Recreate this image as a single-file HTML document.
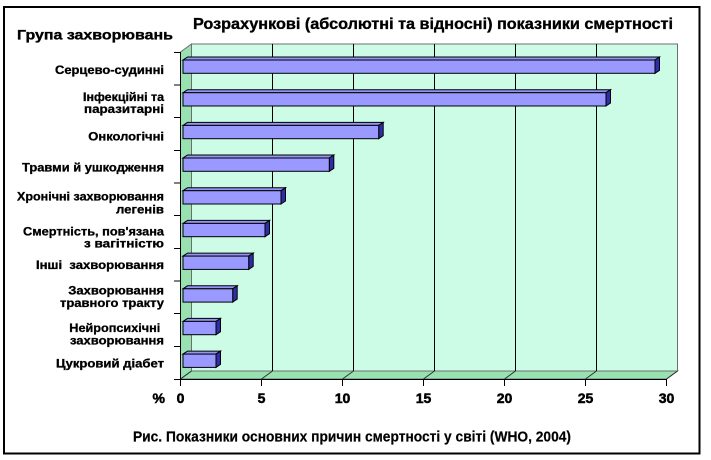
<!DOCTYPE html>
<html>
<head>
<meta charset="utf-8">
<style>
  html,body{margin:0;padding:0;background:#fff;}
  svg{display:block;}
  text{font-family:"Liberation Sans","DejaVu Sans",sans-serif;font-weight:bold;fill:#000;}
</style>
</head>
<body>
<svg width="711" height="460" viewBox="0 0 711 460" xmlns="http://www.w3.org/2000/svg">
  <rect x="0" y="0" width="711" height="460" fill="#ffffff"/>
  <!-- outer border -->
  <rect x="4" y="7" width="695.5" height="446.5" fill="none" stroke="#000" stroke-width="2"/>

  <!-- titles -->
  <text x="193" y="29" font-size="15.5" textLength="480" lengthAdjust="spacingAndGlyphs" stroke="#000" stroke-width="0.35">Розрахункові (абсолютні та відносні) показники смертності</text>
  <text x="17" y="39.5" font-size="14" textLength="156" lengthAdjust="spacingAndGlyphs" stroke="#000" stroke-width="0.35">Група захворювань</text>

  <!-- back wall -->
  <rect x="191.5" y="44" width="486" height="327" fill="#ccfce6" stroke="#6e6e6e" stroke-width="1"/>
  <!-- left side wall -->
  <polygon points="180.5,52 191.5,44 191.5,371 180.5,379" fill="#98e1b1" stroke="#6e6e6e" stroke-width="1"/>
  <!-- floor -->
  <polygon points="180.5,379 191.5,371 677.5,371 666.5,379" fill="#98e1b1" stroke="#6e6e6e" stroke-width="1"/>

  <!-- gridlines on back wall -->
  <g stroke="#000" stroke-width="1">
    <line x1="272.5" y1="44" x2="272.5" y2="371"/>
    <line x1="353.5" y1="44" x2="353.5" y2="371"/>
    <line x1="434.5" y1="44" x2="434.5" y2="371"/>
    <line x1="515.5" y1="44" x2="515.5" y2="371"/>
    <line x1="596.5" y1="44" x2="596.5" y2="371"/>
  </g>
  <!-- floor diagonals -->
  <g stroke="#333" stroke-width="1">
    <line x1="180.5" y1="379" x2="191.5" y2="371"/>
    <line x1="261.5" y1="379" x2="272.5" y2="371"/>
    <line x1="342.5" y1="379" x2="353.5" y2="371"/>
    <line x1="423.5" y1="379" x2="434.5" y2="371"/>
    <line x1="504.5" y1="379" x2="515.5" y2="371"/>
    <line x1="585.5" y1="379" x2="596.5" y2="371"/>
    <line x1="666.5" y1="379" x2="677.5" y2="371"/>
  </g>

  <!-- axes -->
  <g stroke="#000" stroke-width="1">
    <line x1="180.5" y1="52" x2="180.5" y2="379.5"/>
    <line x1="180.5" y1="379.5" x2="666.5" y2="379.5"/>
    <!-- y ticks -->
    <line x1="174" y1="52.5" x2="180.5" y2="52.5"/>
    <line x1="174" y1="85" x2="180.5" y2="85"/>
    <line x1="174" y1="117.5" x2="180.5" y2="117.5"/>
    <line x1="174" y1="150.5" x2="180.5" y2="150.5"/>
    <line x1="174" y1="183" x2="180.5" y2="183"/>
    <line x1="174" y1="215.5" x2="180.5" y2="215.5"/>
    <line x1="174" y1="248.5" x2="180.5" y2="248.5"/>
    <line x1="174" y1="281" x2="180.5" y2="281"/>
    <line x1="174" y1="313.5" x2="180.5" y2="313.5"/>
    <line x1="174" y1="346.5" x2="180.5" y2="346.5"/>
    <line x1="174" y1="379.5" x2="180.5" y2="379.5"/>
    <!-- x ticks -->
    <line x1="180.5" y1="379" x2="180.5" y2="386"/>
    <line x1="261.5" y1="379" x2="261.5" y2="386"/>
    <line x1="342.5" y1="379" x2="342.5" y2="386"/>
    <line x1="423.5" y1="379" x2="423.5" y2="386"/>
    <line x1="504.5" y1="379" x2="504.5" y2="386"/>
    <line x1="585.5" y1="379" x2="585.5" y2="386"/>
    <line x1="666.5" y1="379" x2="666.5" y2="386"/>
  </g>

  <!-- bars -->
  <g stroke="#000" stroke-width="1" stroke-linejoin="miter">
    <polygon points="183,60 187.5,57 659.5,57 655,60" fill="#9494f6"/>
    <polygon points="655,60 659.5,57 659.5,70.3 655,73.3" fill="#2e2ea8"/>
    <rect x="183" y="60" width="472" height="13.3" fill="#9999ff"/>

    <polygon points="183,92.7 187.5,89.7 610.5,89.7 606,92.7" fill="#9494f6"/>
    <polygon points="606,92.7 610.5,89.7 610.5,103 606,106" fill="#2e2ea8"/>
    <rect x="183" y="92.7" width="423" height="13.3" fill="#9999ff"/>

    <polygon points="183,125.4 187.5,122.4 383.2,122.4 378.7,125.4" fill="#9494f6"/>
    <polygon points="378.7,125.4 383.2,122.4 383.2,135.7 378.7,138.7" fill="#2e2ea8"/>
    <rect x="183" y="125.4" width="195.7" height="13.3" fill="#9999ff"/>

    <polygon points="183,158 187.5,155 333.8,155 329.3,158" fill="#9494f6"/>
    <polygon points="329.3,158 333.8,155 333.8,168.3 329.3,171.3" fill="#2e2ea8"/>
    <rect x="183" y="158" width="146.3" height="13.3" fill="#9999ff"/>

    <polygon points="183,190.7 187.5,187.7 285.5,187.7 281,190.7" fill="#9494f6"/>
    <polygon points="281,190.7 285.5,187.7 285.5,201 281,204" fill="#2e2ea8"/>
    <rect x="183" y="190.7" width="98" height="13.3" fill="#9999ff"/>

    <polygon points="183,223.4 187.5,220.4 269.5,220.4 265,223.4" fill="#9494f6"/>
    <polygon points="265,223.4 269.5,220.4 269.5,233.7 265,236.7" fill="#2e2ea8"/>
    <rect x="183" y="223.4" width="82" height="13.3" fill="#9999ff"/>

    <polygon points="183,256.1 187.5,253.1 253.2,253.1 248.7,256.1" fill="#9494f6"/>
    <polygon points="248.7,256.1 253.2,253.1 253.2,266.4 248.7,269.4" fill="#2e2ea8"/>
    <rect x="183" y="256.1" width="65.7" height="13.3" fill="#9999ff"/>

    <polygon points="183,288.8 187.5,285.8 237.2,285.8 232.7,288.8" fill="#9494f6"/>
    <polygon points="232.7,288.8 237.2,285.8 237.2,299.1 232.7,302.1" fill="#2e2ea8"/>
    <rect x="183" y="288.8" width="49.7" height="13.3" fill="#9999ff"/>

    <polygon points="183,321.4 187.5,318.4 220.5,318.4 216,321.4" fill="#9494f6"/>
    <polygon points="216,321.4 220.5,318.4 220.5,331.7 216,334.7" fill="#2e2ea8"/>
    <rect x="183" y="321.4" width="33" height="13.3" fill="#9999ff"/>

    <polygon points="183,354.1 187.5,351.1 220.5,351.1 216,354.1" fill="#9494f6"/>
    <polygon points="216,354.1 220.5,351.1 220.5,364.4 216,367.4" fill="#2e2ea8"/>
    <rect x="183" y="354.1" width="33" height="13.3" fill="#9999ff"/>
  </g>

  <!-- category labels -->
  <g font-size="11.5" stroke="#000" stroke-width="0.3">
    <text x="55" y="74" textLength="109" lengthAdjust="spacingAndGlyphs">Серцево-судинні</text>
    <text x="83" y="101" textLength="81" lengthAdjust="spacingAndGlyphs">Інфекційні та</text>
    <text x="84" y="113" textLength="80" lengthAdjust="spacingAndGlyphs">паразитарні</text>
    <text x="88.3" y="140.5" textLength="75.7" lengthAdjust="spacingAndGlyphs">Онкологічні</text>
    <text x="22" y="171.5" textLength="142" lengthAdjust="spacingAndGlyphs">Травми й ушкодження</text>
    <text x="17" y="200.5" textLength="147" lengthAdjust="spacingAndGlyphs">Хронічні захворювання</text>
    <text x="116" y="213.5" textLength="48" lengthAdjust="spacingAndGlyphs">легенів</text>
    <text x="23" y="235.5" textLength="141" lengthAdjust="spacingAndGlyphs">Смертність, пов'язана</text>
    <text x="84" y="247.5" textLength="80" lengthAdjust="spacingAndGlyphs">з вагітністю</text>
    <text x="36" y="269" textLength="128" lengthAdjust="spacingAndGlyphs">Інші&#160; захворювання</text>
    <text x="68.3" y="294.5" textLength="95.7" lengthAdjust="spacingAndGlyphs">Захворювання</text>
    <text x="60" y="307" textLength="104" lengthAdjust="spacingAndGlyphs">травного тракту</text>
    <text x="69.3" y="332" textLength="91" lengthAdjust="spacingAndGlyphs">Нейропсихічні</text>
    <text x="70" y="344.5" textLength="94" lengthAdjust="spacingAndGlyphs">захворювання</text>
    <text x="56" y="367.5" textLength="108" lengthAdjust="spacingAndGlyphs">Цукровий діабет</text>
  </g>

  <!-- x tick labels -->
  <g font-size="14" text-anchor="middle" stroke="#000" stroke-width="0.5">
    <text x="158.7" y="403">%</text>
    <text x="180.5" y="403">0</text>
    <text x="261.5" y="403">5</text>
    <text x="342.5" y="403">10</text>
    <text x="423.5" y="403">15</text>
    <text x="504.5" y="403">20</text>
    <text x="585.5" y="403">25</text>
    <text x="666.5" y="403">30</text>
  </g>

  <!-- caption -->
  <text x="133" y="441.5" font-size="15" textLength="438" lengthAdjust="spacingAndGlyphs" stroke="#000" stroke-width="0.2">Рис. Показники основних причин смертності у світі (WHO, 2004)</text>
</svg>
</body>
</html>
